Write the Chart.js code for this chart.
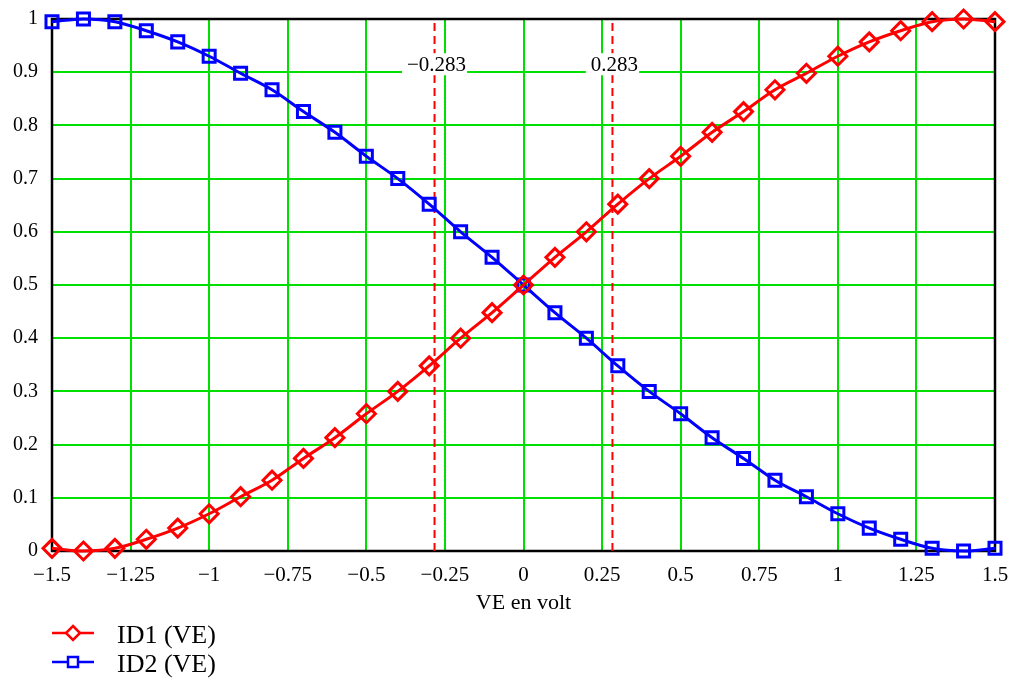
<!DOCTYPE html>
<html lang="fr">
<head>
    <meta charset="UTF-8">
    <title>ID1 / ID2 en fonction de VE</title>
    <script src="https://cdn.jsdelivr.net/npm/chart.js"></script>
    <style>
        body { margin: 0; background: #fff; }
        #wrap { width: 1010px; height: 680px; }
    </style>
</head>
<body>
    <div id="wrap">
        <canvas id="veChart" width="1010" height="680"></canvas>
    </div>

    <script>
        // tension VE (V) aux points marqués
        const ve = [-1.5, -1.4, -1.3, -1.2, -1.1, -1.0, -0.9, -0.8, -0.7, -0.6, -0.5,
                    -0.4, -0.3, -0.2, -0.1, 0, 0.1, 0.2, 0.3, 0.4, 0.5,
                    0.6, 0.7, 0.8, 0.9, 1.0, 1.1, 1.2, 1.3, 1.4, 1.5];
        const id1 = [0.005, 0.0, 0.005, 0.022, 0.043, 0.07, 0.102, 0.133, 0.174, 0.213, 0.258,
                     0.30, 0.348, 0.40, 0.448, 0.50, 0.552, 0.60, 0.652, 0.70, 0.742,
                     0.787, 0.826, 0.867, 0.898, 0.93, 0.957, 0.978, 0.995, 1.0, 0.995];
        const id2 = [0.995, 1.0, 0.995, 0.978, 0.957, 0.93, 0.898, 0.867, 0.826, 0.787, 0.742,
                     0.70, 0.652, 0.60, 0.552, 0.50, 0.448, 0.40, 0.348, 0.30, 0.258,
                     0.213, 0.174, 0.133, 0.102, 0.07, 0.043, 0.022, 0.005, 0.0, 0.005];
        const markers = [-0.283, 0.283];
        const markerLabelY = 0.915;
        const xTicks = [-1.5, -1.25, -1, -0.75, -0.5, -0.25, 0, 0.25, 0.5, 0.75, 1, 1.25, 1.5];
        const yTicks = [0, 0.1, 0.2, 0.3, 0.4, 0.5, 0.6, 0.7, 0.8, 0.9, 1];
        const seriesNames = ["ID1 (VE)", "ID2 (VE)"];

        const SERIF = '"Liberation Serif", "DejaVu Serif", serif';
        const GREEN = "#00e000";

        const fmt = v => String(v).replace("-", "\u2212");

        function pts(ys) {
            return ve.map((x, i) => ({ x: x, y: ys[i] }));
        }

        const markerSets = markers.map(m => ({
            data: [{ x: m, y: 0 }, { x: m, y: 1 }],
            borderColor: "#ff0000",
            borderWidth: 2,
            borderDash: [8, 5],
            pointRadius: 0,
            showLine: true,
            clip: false
        }));

        // cadre noir, étiquettes des repères, légende
        const decor = {
            id: "decor",
            beforeDatasetsDraw(chart) {
                const { ctx, chartArea: a } = chart;
                ctx.save();
                ctx.strokeStyle = "#000";
                ctx.lineWidth = 2.5;
                ctx.strokeRect(a.left, a.top, a.right - a.left, a.bottom - a.top);
                ctx.restore();
            },
            afterDatasetsDraw(chart) {
                const { ctx, scales } = chart;
                ctx.save();
                ctx.font = "21px " + SERIF;
                ctx.textAlign = "center";
                ctx.textBaseline = "middle";
                const y = scales.y.getPixelForValue(markerLabelY);
                markers.forEach(m => {
                    const x = scales.x.getPixelForValue(m);
                    const txt = fmt(m);
                    const w = ctx.measureText(txt).width;
                    ctx.fillStyle = "#fff";
                    ctx.fillRect(x - w / 2 - 3, y - 11, w + 6, 22);
                    ctx.fillStyle = "#000";
                    ctx.fillText(txt, x + 2, y + 1);
                });
                ctx.restore();
            },
            afterDraw(chart) {
                const ctx = chart.ctx;
                ctx.save();
                const rows = [
                    { y: 633, color: "#ff0000", shape: "diamond" },
                    { y: 662, color: "#0000ff", shape: "square" }
                ];
                rows.forEach((r, i) => {
                    ctx.strokeStyle = r.color;
                    ctx.lineWidth = 2.5;
                    ctx.beginPath();
                    ctx.moveTo(52, r.y);
                    ctx.lineTo(94, r.y);
                    ctx.stroke();
                    ctx.fillStyle = "#fff";
                    ctx.beginPath();
                    if (r.shape === "diamond") {
                        ctx.moveTo(73, r.y - 7);
                        ctx.lineTo(80, r.y);
                        ctx.lineTo(73, r.y + 7);
                        ctx.lineTo(66, r.y);
                        ctx.closePath();
                    } else {
                        ctx.rect(68, r.y - 5, 10, 10);
                    }
                    ctx.fill();
                    ctx.stroke();
                    ctx.fillStyle = "#000";
                    ctx.font = "26px " + SERIF;
                    ctx.textBaseline = "middle";
                    ctx.fillText(seriesNames[i], 117, r.y + 3);
                });
                ctx.restore();
            }
        };

        new Chart(document.getElementById("veChart"), {
            type: "scatter",
            data: {
                datasets: [
                    {
                        label: seriesNames[0],
                        data: pts(id1),
                        showLine: true,
                        borderColor: "#ff0000",
                        borderWidth: 3,
                        pointStyle: "rectRot",
                        pointRadius: 9,
                        pointBorderWidth: 3,
                        pointBackgroundColor: "rgba(255,255,255,0)",
                        pointBorderColor: "#ff0000",
                        cubicInterpolationMode: "monotone",
                        clip: false
                    },
                    {
                        label: seriesNames[1],
                        data: pts(id2),
                        showLine: true,
                        borderColor: "#0000ff",
                        borderWidth: 3,
                        pointStyle: "rect",
                        pointRadius: 8.5,
                        pointBorderWidth: 3,
                        pointBackgroundColor: "rgba(255,255,255,0)",
                        pointBorderColor: "#0000ff",
                        cubicInterpolationMode: "monotone",
                        clip: false
                    },
                    ...markerSets
                ]
            },
            options: {
                responsive: false,
                animation: false,
                layout: { padding: { left: 0, right: 15, top: 19, bottom: 66 } },
                plugins: { legend: { display: false }, tooltip: { enabled: false } },
                scales: {
                    x: {
                        type: "linear",
                        min: -1.5,
                        max: 1.5,
                        afterBuildTicks: s => { s.ticks = xTicks.map(v => ({ value: v })); },
                        afterFit: s => {
                            s.height = 63;
                            s.paddingLeft = 0;
                            s.paddingRight = 0;
                        },
                        ticks: {
                            callback: v => fmt(v),
                            color: "#000",
                            font: { family: SERIF, size: 21 },
                            padding: 12,
                            maxRotation: 0,
                            autoSkip: false
                        },
                        grid: { color: GREEN, lineWidth: 2, drawTicks: false },
                        border: { display: false },
                        title: {
                            display: true,
                            text: "VE en volt",
                            color: "#000",
                            font: { family: SERIF, size: 22, lineHeight: 1 },
                            padding: { top: 0, bottom: 0 }
                        }
                    },
                    y: {
                        min: 0,
                        max: 1,
                        afterBuildTicks: s => { s.ticks = yTicks.map(v => ({ value: v })); },
                        afterFit: s => {
                            s.width = 52;
                            s.paddingTop = 0;
                            s.paddingBottom = 0;
                        },
                        ticks: {
                            callback: v => fmt(v),
                            color: "#000",
                            font: { family: SERIF, size: 20 },
                            padding: 14
                        },
                        grid: { color: GREEN, lineWidth: 2, drawTicks: false },
                        border: { display: false }
                    }
                }
            },
            plugins: [decor]
        });
    </script>
</body>
</html>
